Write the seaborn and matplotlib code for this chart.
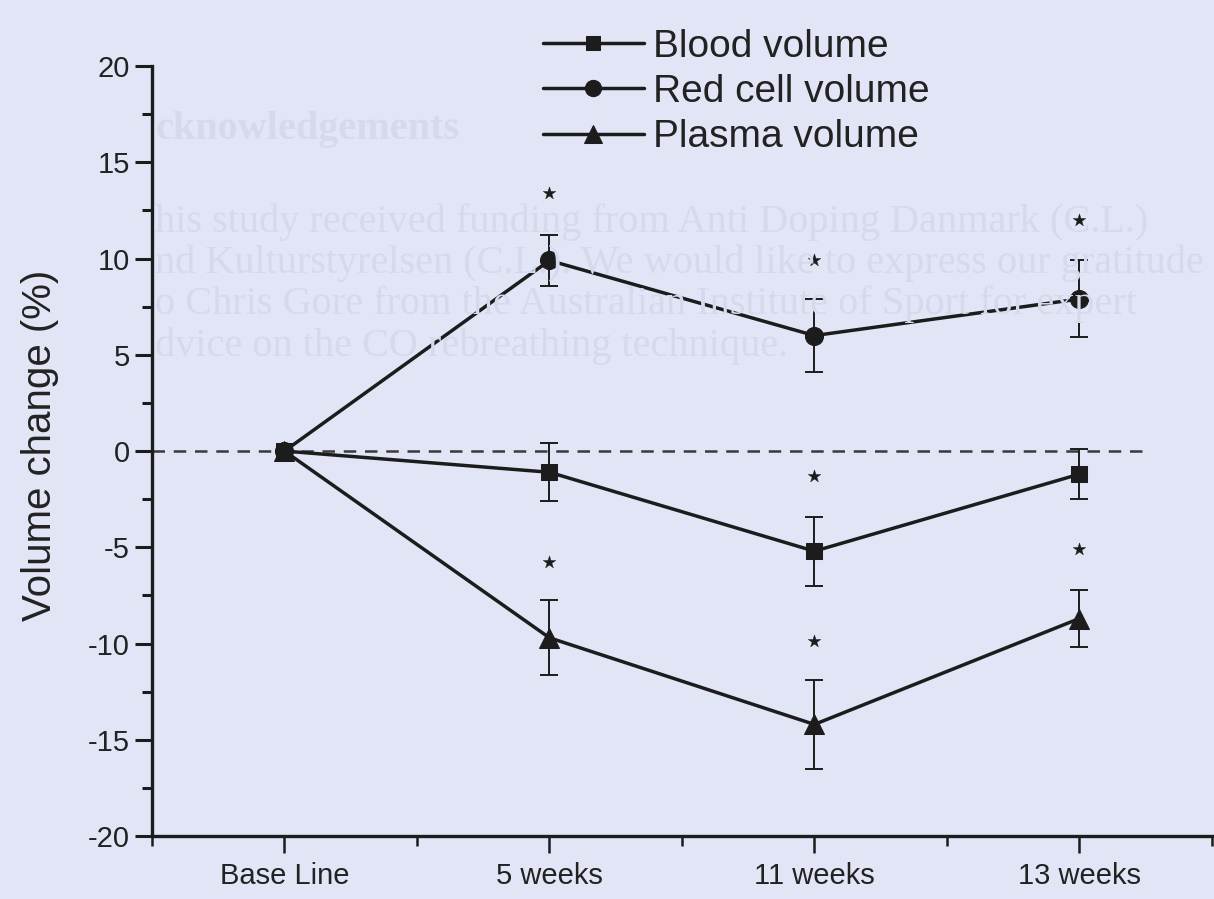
import matplotlib
matplotlib.use("Agg")
import matplotlib.pyplot as plt
from matplotlib.ticker import MultipleLocator, FixedLocator
import numpy as np
import pandas as pd
import seaborn as sns

# time points and series (% change from baseline)
timepoints = ["Base Line", "5 weeks", "11 weeks", "13 weeks"]
blood = [0.0, -1.1, -5.2, -1.2]
blood_err = [0.0, 1.5, 1.8, 1.3]
red_cell = [0.0, 9.9, 6.0, 7.9]
red_cell_err = [0.0, 1.3, 1.9, 2.0]
plasma = [0.0, -9.7, -14.2, -8.7]
plasma_err = [0.0, 1.95, 2.3, 1.5]

# significance stars (time point index, y)
star_x = [1, 1, 2, 2, 2, 3, 3]
star_y = [13.4, -5.75, 9.9, -1.3, -9.85, 12.0, -5.1]

names = ["Blood volume", "Red cell volume", "Plasma volume"]
markers = {"Blood volume": "s", "Red cell volume": "o", "Plasma volume": "^"}
msize = {"Blood volume": 11, "Red cell volume": 13, "Plasma volume": 14}

bg = "#e2e5f6"
ink = "#1c1c1c"

sns.set_style("ticks")
plt.rcParams["font.family"] = ["Liberation Sans", "DejaVu Sans"]
plt.rcParams["axes.unicode_minus"] = False

xpos = np.arange(len(timepoints))
df = pd.DataFrame({
    "x": np.tile(xpos, 3),
    "y": blood + red_cell + plasma,
    "err": blood_err + red_cell_err + plasma_err,
    "series": np.repeat(names, len(timepoints)),
})

fig = plt.figure(figsize=(12.14, 8.99), dpi=100, facecolor=bg)

# faint bleed-through text from the scanned page
ghost = dict(color="#d6d9ec", family="Liberation Serif", fontsize=29,
             va="center", zorder=0)
fig.text(0.128, 1 - 130 / 899, "cknowledgements", fontweight="bold", **ghost)
fig.text(0.128, 1 - 222 / 899, "his study received funding from Anti Doping Danmark (C.L.)", **ghost)
fig.text(0.128, 1 - 263 / 899, "nd Kulturstyrelsen (C.L.). We would like to express our gratitude", **ghost)
fig.text(0.128, 1 - 304 / 899, "o Chris Gore from the Australian Institute of Sport for expert", **ghost)
fig.text(0.128, 1 - 346 / 899, "dvice on the CO rebreathing technique.", **ghost)

ax = fig.add_axes([0.1252, 0.070, 0.873, 0.8565])
ax.set_facecolor("none")

ax.hlines(0, -0.5, 3.25, colors="#3a3a3a", linestyles=(0, (5, 3.5)), lw=1.8, zorder=1)

for name in names:
    d = df[df["series"] == name]
    ax.errorbar(d["x"], d["y"], yerr=d["err"], fmt="none", ecolor=ink,
                elinewidth=1.4, capsize=6.5, capthick=1.4, zorder=2)
    sns.lineplot(data=d, x="x", y="y", ax=ax, color=ink, lw=2.5,
                 marker=markers[name], markersize=msize[name],
                 markeredgecolor=ink, label=name, zorder=3)

sns.scatterplot(x=star_x, y=star_y, marker="*", s=90, color=ink,
                edgecolor=ink, linewidth=0.3, ax=ax, zorder=4, legend=False)

ax.set_xlim(-0.5, 3.5)
ax.set_ylim(-20, 20)
ax.set_xticks(xpos)
ax.set_xticklabels(timepoints)
ax.xaxis.set_minor_locator(FixedLocator([-0.5, 0.5, 1.5, 2.5, 3.5]))
ax.yaxis.set_major_locator(MultipleLocator(5))
ax.yaxis.set_minor_locator(MultipleLocator(2.5))

for s in ["top", "right"]:
    ax.spines[s].set_visible(False)
for s in ["left", "bottom"]:
    ax.spines[s].set_color(ink)
    ax.spines[s].set_linewidth(2.4)

ax.tick_params(axis="y", which="major", length=12, width=2.2, color=ink,
               labelsize=21, labelcolor="#222222", pad=4)
ax.tick_params(axis="y", which="minor", length=7, width=2.2, color=ink)
ax.tick_params(axis="x", which="major", length=12, width=1.8, color=ink,
               labelsize=21, labelcolor="#222222", pad=7)
ax.tick_params(axis="x", which="minor", length=7, width=1.8, color=ink)

ax.set_xlabel("")
ax.set_ylabel("Volume change (%)", fontsize=29, color="#222222")
ax.yaxis.set_label_coords(-0.088, 0.508)

leg = ax.legend(loc="upper left", bbox_to_anchor=(0.447, 0.968),
                bbox_transform=fig.transFigure, frameon=False, fontsize=28,
                handlelength=2.6, handletextpad=0.25, labelspacing=0.24,
                borderpad=0, borderaxespad=0, markerscale=0.9)
for t in leg.get_texts():
    t.set_color("#222222")

fig.savefig("out.png", dpi=100, facecolor=bg)
